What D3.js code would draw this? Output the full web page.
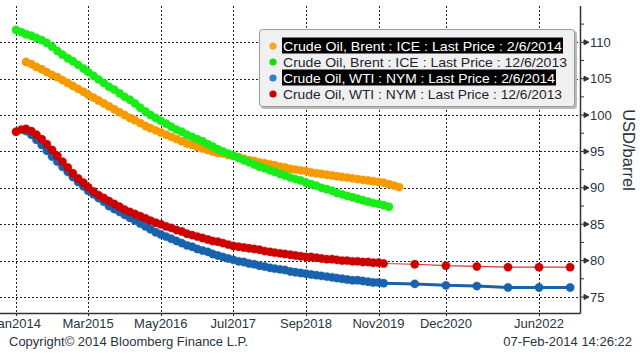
<!DOCTYPE html>
<html>
<head>
<meta charset="utf-8">
<script src="https://cdn.jsdelivr.net/npm/d3@7"></script>
<style>
  body { margin: 0; background: #fff; }
  text { font-family: "Liberation Sans", Arial, sans-serif; }
</style>
</head>
<body>
<svg id="chart" width="640" height="353"></svg>
<script>
// series labels, in legend order (also draw order)
const seriesNames = [
  "Crude Oil, Brent : ICE : Last Price : 2/6/2014",
  "Crude Oil, Brent : ICE : Last Price : 12/6/2013",
  "Crude Oil, WTI : NYM : Last Price : 2/6/2014",
  "Crude Oil, WTI : NYM : Last Price : 12/6/2013"
];
const seriesColors = ["#f59b00", "#19ec19", "#1862ae", "#cc0000"];
const legendColors = ["#f5a623", "#11dd11", "#2f7fd4", "#cc0000"];
const highlighted = [true, false, true, false];

// contract months (x categories)
const sparseContracts = ["2020-06", "2020-12", "2021-06", "2021-12", "2022-06", "2022-12"];
const brentFebMonths = d3.timeMonth.range(new Date(2014, 2, 1), new Date(2020, 3, 1));  // Mar14..Mar20
const brentDecMonths = d3.timeMonth.range(new Date(2014, 0, 1), new Date(2020, 1, 1));  // Jan14..Jan20
const wtiFebMonths = d3.timeMonth.range(new Date(2014, 2, 1), new Date(2020, 0, 1))
  .concat(sparseContracts.map(d3.timeParse("%Y-%m")));                                  // Mar14..Dec19 + Jun/Dec
const wtiDecMonths = d3.timeMonth.range(new Date(2014, 0, 1), new Date(2020, 0, 1))
  .concat(sparseContracts.map(d3.timeParse("%Y-%m")));

// futures prices, USD/barrel
const brentFeb = [
  107.3, 107.0, 106.6, 106.3, 105.9, 105.5, 105.2, 104.8, 104.4, 104.0,
  103.6, 103.2, 102.8, 102.4, 102.0, 101.6, 101.2, 100.8, 100.4, 100.0,
  99.6, 99.3, 98.9, 98.5, 98.2, 97.9, 97.6, 97.3, 97.0, 96.7,
  96.4, 96.1, 95.9, 95.6, 95.4, 95.2, 95.0, 94.8, 94.7, 94.5,
  94.4, 94.2, 94.0, 93.8, 93.7, 93.5, 93.4, 93.2, 93.1, 92.9,
  92.8, 92.6, 92.5, 92.4, 92.3, 92.1, 92.0, 91.9, 91.8, 91.7,
  91.6, 91.5, 91.4, 91.3, 91.2, 91.1, 91.0, 90.9, 90.8, 90.7,
  90.5, 90.3, 90.1
];
const brentDec = [
  111.7, 111.4, 111.1, 110.9, 110.6, 110.3, 109.9, 109.4, 108.8, 108.3,
  107.8, 107.4, 106.9, 106.4, 105.9, 105.4, 104.9, 104.4, 103.9, 103.5,
  103.0, 102.5, 102.1, 101.6, 101.0, 100.5, 100.0, 99.6, 99.2, 98.8,
  98.4, 98.0, 97.7, 97.3, 97.0, 96.7, 96.4, 96.0, 95.7, 95.3,
  95.0, 94.7, 94.4, 94.1, 93.8, 93.5, 93.2, 92.9, 92.7, 92.4,
  92.2, 91.9, 91.7, 91.4, 91.2, 91.0, 90.7, 90.5, 90.3, 90.0,
  89.8, 89.6, 89.3, 89.1, 88.9, 88.7, 88.5, 88.3, 88.1, 87.9,
  87.8, 87.6, 87.4
];
const wtiFeb = [
  97.8, 97.3, 96.6, 95.9, 95.1, 94.3, 93.6, 92.9, 92.2, 91.5,
  90.8, 90.2, 89.6, 89.1, 88.6, 88.1, 87.5, 87.1, 86.7, 86.3,
  85.9, 85.5, 85.1, 84.7, 84.3, 83.9, 83.6, 83.3, 83.0, 82.7,
  82.4, 82.1, 81.9, 81.6, 81.4, 81.2, 80.9, 80.7, 80.5, 80.3,
  80.1, 79.9, 79.8, 79.6, 79.5, 79.3, 79.2, 79.0, 78.9, 78.8,
  78.7, 78.5, 78.4, 78.3, 78.2, 78.1, 78.0, 77.9, 77.8, 77.7,
  77.6, 77.5, 77.4, 77.3, 77.3, 77.2, 77.1, 77.0, 77.0, 76.9,
  76.8, 76.6, 76.5, 76.3, 76.3, 76.3
];
const wtiDec = [
  97.7, 98.0, 98.1, 97.8, 97.3, 96.7, 96.0, 95.2, 94.4, 93.6,
  92.8, 92.0, 91.3, 90.7, 90.1, 89.5, 89.0, 88.6, 88.2, 87.8,
  87.4, 87.0, 86.7, 86.4, 86.1, 85.8, 85.5, 85.2, 85.0, 84.7,
  84.5, 84.2, 84.0, 83.7, 83.5, 83.3, 83.1, 82.9, 82.7, 82.6,
  82.4, 82.2, 82.0, 81.9, 81.8, 81.7, 81.6, 81.5, 81.3, 81.2,
  81.1, 81.0, 80.9, 80.8, 80.7, 80.6, 80.5, 80.5, 80.4, 80.3,
  80.2, 80.2, 80.1, 80.0, 80.0, 79.9, 79.9, 79.8, 79.8, 79.7,
  79.7, 79.6,
  79.5, 79.3, 79.2, 79.1, 79.1, 79.1
];

// axis ticks
const xTickLabels = ["2014-01", "2015-03", "2016-05", "2017-07", "2018-09", "2019-11", "2020-12", "2022-06"];
const yTicks = [75, 80, 85, 90, 95, 100, 105, 110];
const yMinorTicks = [77.5, 82.5, 87.5, 92.5, 97.5, 102.5, 107.5, 112.5];

const series = [
  { dates: brentFebMonths, values: brentFeb, lw: 1 },
  { dates: brentDecMonths, values: brentDec, lw: 1 },
  { dates: wtiFebMonths, values: wtiFeb, lw: 3 },
  { dates: wtiDecMonths, values: wtiDec, lw: 1.2 }
];

const plotLeft = 0, plotRight = 580, plotTop = 6, plotBottom = 313;
const parseMonth = d3.timeParse("%Y-%m");

const svg = d3.select("#chart");

const x = d3.scaleTime()
  .domain([new Date(2014, 0, 1), new Date(2022, 5, 1)])
  .range([16, 539]);
const y = d3.scaleLinear()
  .domain([75, 110])
  .range([297, 42.3]);

// grid
const grid = svg.append("g");
grid.selectAll("line.hg")
  .data(yTicks)
  .enter().append("line")
    .attr("x1", plotLeft).attr("x2", plotRight)
    .attr("y1", d => Math.round(y(d)) + 0.5).attr("y2", d => Math.round(y(d)) + 0.5)
    .attr("stroke", "#222").attr("stroke-width", 1).attr("stroke-dasharray", "2,2");
grid.selectAll("line.vg")
  .data(xTickLabels.map(parseMonth))
  .enter().append("line")
    .attr("x1", d => Math.round(x(d)) + 0.5).attr("x2", d => Math.round(x(d)) + 0.5)
    .attr("y1", plotTop).attr("y2", plotBottom + 4)
    .attr("stroke", "#222").attr("stroke-width", 1).attr("stroke-dasharray", "2,2");

// series
svg.append("clipPath").attr("id", "clip")
  .append("rect").attr("x", plotLeft).attr("y", 0).attr("width", plotRight - plotLeft).attr("height", plotBottom);

const plot = svg.append("g").attr("clip-path", "url(#clip)");
const line = d3.line().x(d => x(d[0])).y(d => y(d[1]));

series.forEach(function (s, i) {
  const pts = s.dates.map((d, j) => [d, s.values[j]]);
  const g = plot.append("g");
  g.append("path")
    .attr("d", line(pts))
    .attr("fill", "none")
    .attr("stroke", seriesColors[i])
    .attr("stroke-opacity", i == 3 ? 0.8 : 1)
    .attr("stroke-width", s.lw);
  g.selectAll("circle")
    .data(pts)
    .enter().append("circle")
      .attr("cx", d => x(d[0]))
      .attr("cy", d => y(d[1]))
      .attr("r", 4.2)
      .attr("fill", seriesColors[i])
      .attr("stroke", seriesColors[i])
      .attr("stroke-opacity", 0.25)
      .attr("stroke-width", 1.2);
});

// axes
const axisColor = "#333";
const textColor = "#2a3340";
svg.append("line")
  .attr("x1", plotLeft).attr("x2", plotRight + 0.5)
  .attr("y1", plotBottom + 0.5).attr("y2", plotBottom + 0.5)
  .attr("stroke", axisColor).attr("stroke-width", 1.5);
svg.append("line")
  .attr("x1", plotRight + 0.5).attr("x2", plotRight + 0.5)
  .attr("y1", plotTop).attr("y2", plotBottom + 0.5)
  .attr("stroke", axisColor).attr("stroke-width", 1.5);

svg.selectAll("path.ytick")
  .data(yTicks)
  .enter().append("path")
    .attr("d", d => {
      const yy = y(d);
      return `M${plotRight},${yy}H${plotRight + 5}M${plotRight + 4},${yy - 2.5}L${plotRight + 9},${yy}L${plotRight + 4},${yy + 2.5}Z`;
    })
    .attr("stroke", axisColor).attr("stroke-width", 1).attr("fill", axisColor);
svg.selectAll("line.yminor")
  .data(yMinorTicks)
  .enter().append("line")
    .attr("x1", plotRight).attr("x2", plotRight + 4)
    .attr("y1", d => y(d)).attr("y2", d => y(d))
    .attr("stroke", axisColor).attr("stroke-width", 1);

svg.selectAll("text.ylab")
  .data(yTicks)
  .enter().append("text")
    .attr("x", 590)
    .attr("y", d => y(d))
    .attr("dy", "0.35em")
    .attr("font-size", 13)
    .attr("fill", textColor)
    .text(d => d);

svg.append("text")
  .attr("transform", "translate(623,150) rotate(90)")
  .attr("text-anchor", "middle")
  .attr("font-size", 16.5)
  .attr("fill", textColor)
  .text("USD/barrel");

const fmt = d3.timeFormat("%b%Y");
svg.selectAll("text.xlab")
  .data(xTickLabels.map(parseMonth))
  .enter().append("text")
    .attr("x", d => x(d))
    .attr("y", 323)
    .attr("dy", "0.35em")
    .attr("text-anchor", "middle")
    .attr("font-size", 13)
    .attr("fill", textColor)
    .text(d => fmt(d));

svg.append("text")
  .attr("x", 9).attr("y", 341).attr("dy", "0.35em")
  .attr("font-size", 13).attr("fill", textColor)
  .text("Copyright\u00a9 2014 Bloomberg Finance L.P.");
svg.append("text")
  .attr("x", 632).attr("y", 341).attr("dy", "0.35em")
  .attr("text-anchor", "end")
  .attr("font-size", 13).attr("fill", textColor)
  .text("07-Feb-2014 14:26:22");

// legend
const legend = svg.append("g");
legend.append("rect")
  .attr("x", 261).attr("y", 31).attr("width", 316).attr("height", 78).attr("rx", 3)
  .attr("fill", "#bbb");
legend.append("rect")
  .attr("x", 259.5).attr("y", 29.5).attr("width", 315).attr("height", 77).attr("rx", 3)
  .attr("fill", "#f0f0f0").attr("stroke", "#9a9a9a");

const legendWidths = [279, 284, 272, 279];
const rows = legend.selectAll("g.row")
  .data(seriesNames)
  .enter().append("g")
    .attr("transform", (d, i) => `translate(0,${46 + i * 16})`);
rows.each(function (d, i) {
  const r = d3.select(this);
  if (highlighted[i]) {
    r.append("rect")
      .attr("x", 282).attr("y", -8.5)
      .attr("width", legendWidths[i] + 2)
      .attr("height", 16)
      .attr("fill", "#000");
  }
  r.append("circle")
    .attr("cx", 273).attr("cy", 0).attr("r", 3.6)
    .attr("fill", legendColors[i]);
  r.append("text")
    .attr("x", 283).attr("y", 0).attr("dy", "0.36em")
    .attr("font-size", 13.5)
    .attr("textLength", legendWidths[i])
    .attr("lengthAdjust", "spacingAndGlyphs")
    .attr("fill", highlighted[i] ? "#fff" : "#1c2430")
    .text(d);
});
</script>
</body>
</html>
